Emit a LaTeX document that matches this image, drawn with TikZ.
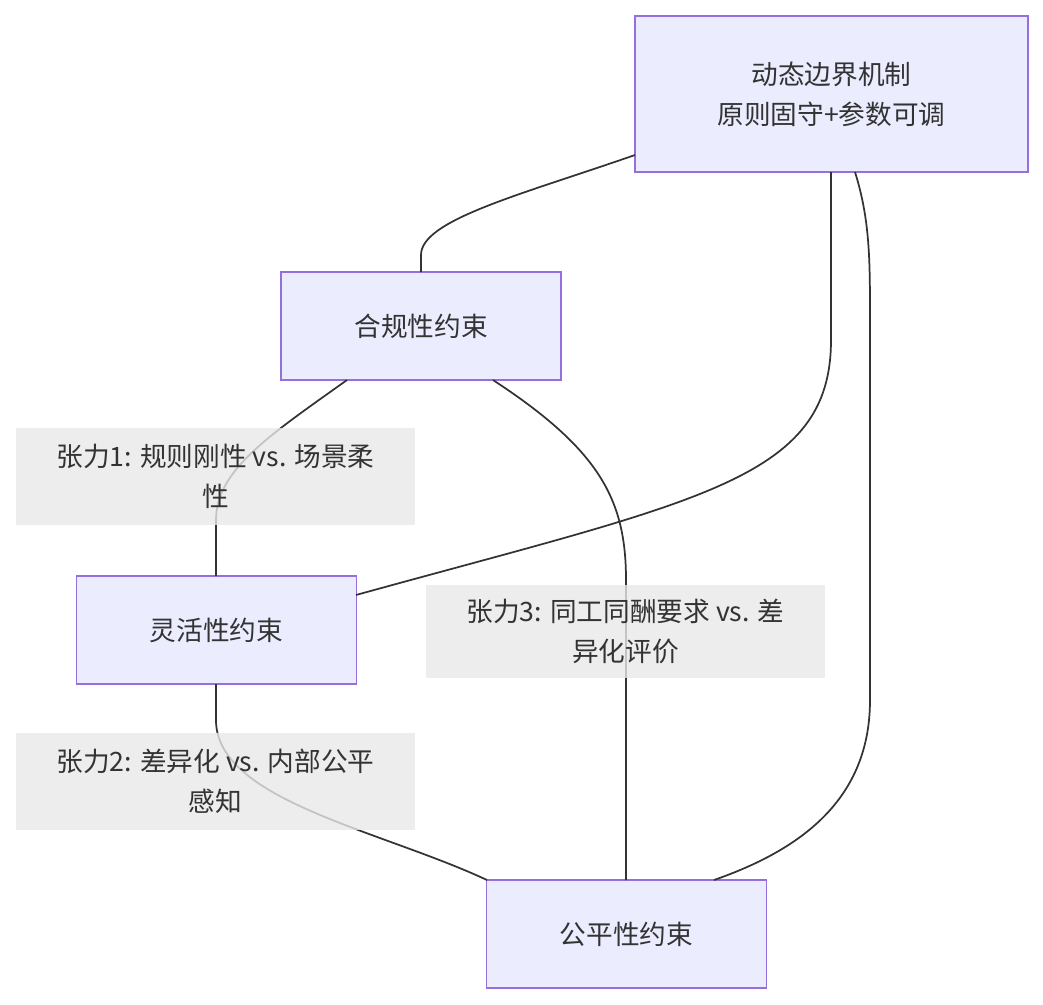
\documentclass[tikz,border=0pt]{standalone}
\usepackage{fontspec}
\setmainfont{Noto Sans CJK SC}
\begin{document}
\begin{tikzpicture}[x=0.75pt,y=-0.75pt,
  box/.style={draw=mborder,fill=mfill,line width=1.1pt,minimum width=280*0.75pt,minimum height=108*0.75pt,inner sep=0pt,text=mtext,font=\fontsize{20}{30}\selectfont,align=center},
  lab/.style={fill=lgray,fill opacity=0.8,text opacity=1,minimum width=399*0.75pt,inner sep=0pt,text=mtext,font=\fontsize{20}{30}\selectfont,align=center},
  con/.style={draw=mline,line width=1.3pt}]
\definecolor{mborder}{HTML}{9370DB}
\definecolor{mfill}{HTML}{ECECFF}
\definecolor{mtext}{HTML}{333333}
\definecolor{mline}{HTML}{333333}
\definecolor{lgray}{HTML}{E8E8E8}
\useasboundingbox (0,0) rectangle (1043,1004);
\node[box,minimum width=393*0.75pt,minimum height=156*0.75pt] (A) at (831.5,94) {动态边界机制\\原则固守+参数可调};
\node[box] (B) at (421,326) {合规性约束};
\node[box] (C) at (216.5,630) {灵活性约束};
\node[box] (D) at (626.5,934) {公平性约束};
\coordinate (a1) at (635,155);
\coordinate (a2) at (831,172);
\coordinate (a3) at (855,172);
\coordinate (b1) at (421,272);
\coordinate (b2) at (347,380);
\coordinate (b3) at (493,380);
\coordinate (c1) at (356,595);
\coordinate (c2) at (216,576);
\coordinate (c3) at (216,684);
\coordinate (d1) at (487,880);
\coordinate (d2) at (626,880);
\coordinate (d3) at (714,880);
\draw[con] (a1) .. controls (520,195) and (421,220) .. (421,255) -- (b1);
\draw[con] (a2) -- (831,340) .. controls (831,480) and (700,500) .. (c1);
\draw[con] (a3) .. controls (870,220) and (870,260) .. (870,320) -- (870,700) .. controls (870,800) and (800,850) .. (d3);
\draw[con] (b2) .. controls (270,435) and (216,470) .. (216,520) -- (c2);
\draw[con] (b3) .. controls (600,450) and (626,500) .. (626,580) -- (d2);
\draw[con] (c3) -- (216,720) .. controls (216,800) and (380,830) .. (d1);
\node[lab,minimum height=97*0.75pt] (L1) at (215.5,476.5) {张力1: 规则刚性 vs. 场景柔\\性};
\node[lab,minimum height=93*0.75pt] (L3) at (625.5,631.5) {张力3: 同工同酬要求 vs. 差\\异化评价};
\node[lab,minimum height=97*0.75pt] (L2) at (215.5,781.5) {张力2: 差异化 vs. 内部公平\\感知};
\end{tikzpicture}
\end{document}
